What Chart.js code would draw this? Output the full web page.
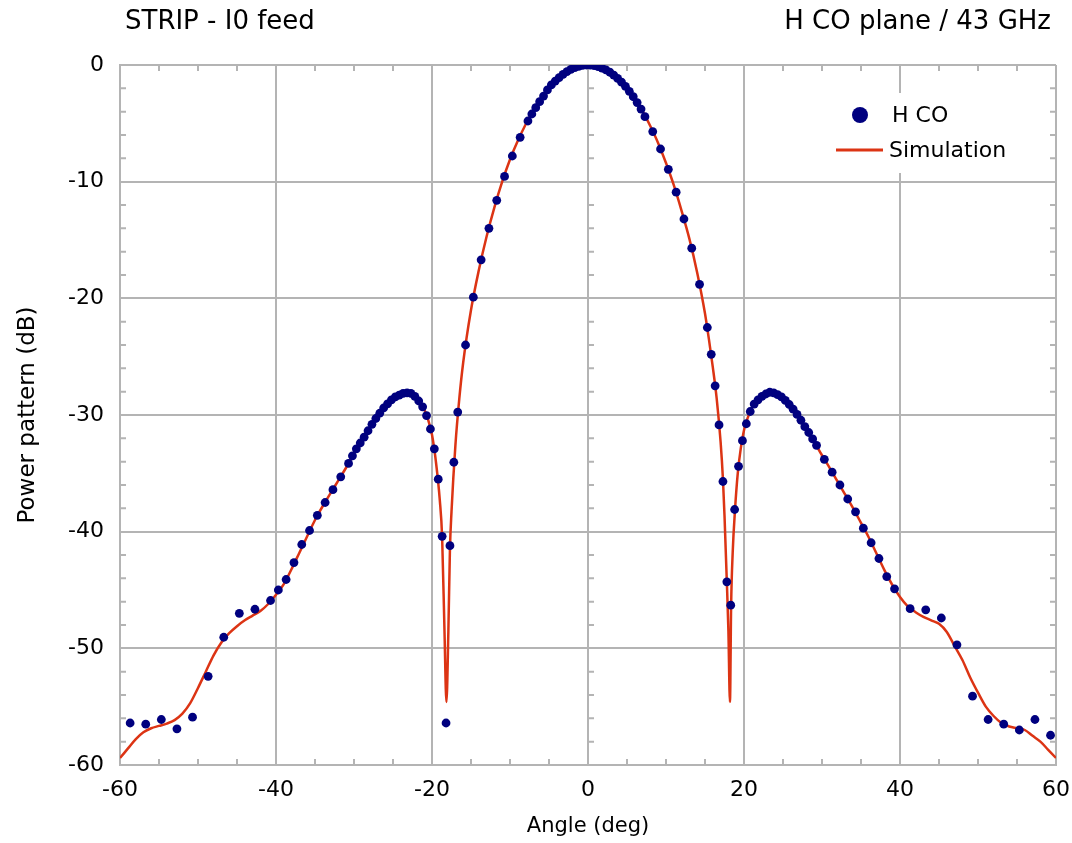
<!DOCTYPE html>
<html>
<head>
<meta charset="utf-8">
<script src="https://cdn.jsdelivr.net/npm/chart.js@4.4.0/dist/chart.umd.min.js"></script>
<style>
  html, body { margin: 0; padding: 0; background: #fff; }
  #wrap { width: 1072px; height: 843px; }
</style>
</head>
<body>
<div id="wrap"><canvas id="chart" width="1072" height="843"></canvas></div>
<script>
// measured points (H CO plane)
const hcoAngles = [
  -58.7, -56.7, -54.7, -52.7, -50.7, -48.7, -46.7, -44.7, -42.7, -40.7,
  -39.7, -38.7, -37.7, -36.7, -35.7, -34.7, -33.7, -32.7, -31.7, -30.7,
  -30.2, -29.7, -29.2, -28.7, -28.2, -27.7, -27.2, -26.7, -26.2, -25.7,
  -25.2, -24.7, -24.2, -23.7, -23.2, -22.7, -22.2, -21.7, -21.2, -20.7,
  -20.2, -19.7, -19.2, -18.7, -18.2, -17.7, -17.2, -16.7,
  -15.7, -14.7, -13.7, -12.7, -11.7, -10.7, -9.7, -8.7, -7.7,
  -7.2, -6.7, -6.2, -5.7, -5.2, -4.7, -4.2, -3.7, -3.2, -2.7, -2.2, -1.7, -1.2, -0.7, -0.2,
  0.3, 0.8, 1.3, 1.8, 2.3, 2.8, 3.3, 3.8, 4.3, 4.8, 5.3, 5.8, 6.3, 6.8,
  7.3, 8.3, 9.3, 10.3, 11.3, 12.3, 13.3, 14.3,
  15.3, 15.8, 16.3, 16.8, 17.3, 17.8, 18.3, 18.8, 19.3, 19.8, 20.3, 20.8,
  21.3, 21.8, 22.3, 22.8, 23.3, 23.8, 24.3, 24.8, 25.3, 25.8, 26.3, 26.8,
  27.3, 27.8, 28.3, 28.8, 29.3,
  30.3, 31.3, 32.3, 33.3, 34.3, 35.3, 36.3, 37.3, 38.3, 39.3,
  41.3, 43.3, 45.3, 47.3, 49.3, 51.3, 53.3, 55.3, 57.3, 59.3
];
const hcoPower = [
  -56.4, -56.5, -56.1, -56.9, -55.9, -52.4, -49.05, -47.0, -46.65, -45.9,
  -45.0, -44.1, -42.65, -41.1, -39.9, -38.6, -37.5, -36.4, -35.3, -34.15,
  -33.5, -32.9, -32.4, -31.9, -31.35, -30.8, -30.3, -29.85, -29.4, -29.05,
  -28.7, -28.45, -28.3, -28.15, -28.1, -28.15, -28.4, -28.8, -29.3, -30.05,
  -31.2, -32.9, -35.5, -40.4, -56.4, -41.2, -34.05, -29.75,
  -24.0, -19.9, -16.7, -14.0, -11.6, -9.55, -7.8, -6.2, -4.8,
  -4.2, -3.66, -3.14, -2.66, -2.14, -1.71, -1.38, -1.08, -0.8, -0.57, -0.38, -0.22, -0.11, -0.04, 0,
  -0.01, -0.05, -0.13, -0.26, -0.42, -0.62, -0.86, -1.15, -1.47, -1.83, -2.26, -2.72, -3.22, -3.78,
  -4.43, -5.71, -7.2, -8.94, -10.9, -13.2, -15.7, -18.8,
  -22.5, -24.8, -27.5, -30.85, -35.7, -44.3, -46.3, -38.1, -34.4, -32.2, -30.75, -29.7,
  -29.06, -28.7, -28.4, -28.2, -28.05, -28.1, -28.25, -28.45, -28.75, -29.1, -29.5, -29.95,
  -30.45, -31.0, -31.5, -32.05, -32.6,
  -33.8, -34.9, -36.0, -37.2, -38.3, -39.7, -40.95, -42.3, -43.85, -44.9,
  -46.6, -46.7, -47.4, -49.7, -54.1, -56.1, -56.5, -57.0, -56.1, -57.45
];

// simulated pattern
const simAngles = [
  -60, -59, -58, -57, -56, -55, -54, -53, -52, -51, -50, -49, -48, -47, -46, -45, -44, -43, -42, -41,
  -40, -39, -38, -37, -36, -35, -34, -33, -32, -31, -30, -29, -28, -27, -26, -25, -24, -23, -22, -21,
  -20.5, -20, -19.5, -19, -18.7, -18.4, -18.15, -17.9, -17.7, -17.5, -17, -16.5, -16,
  -15, -14, -13, -12, -11, -10, -9, -8, -7, -6, -5, -4, -3, -2, -1, 0,
  1, 2, 3, 4, 5, 6, 7, 8, 9, 10, 11, 12, 13, 14, 15, 15.5, 16, 16.5,
  17, 17.3, 17.5, 17.8, 18.0, 18.2, 18.35, 18.55, 18.85, 19.2, 19.6, 20, 20.5, 21,
  22, 23, 24, 25, 26, 27, 28, 29, 30, 31, 32, 33, 34, 35, 36, 37, 38, 39, 40,
  41, 42, 43, 44, 45, 46, 47, 48, 49, 50, 51, 52, 53, 54, 55, 56, 57, 58, 59, 60
];
const simPower = [
  -59.4, -58.6, -57.8, -57.2, -56.85, -56.65, -56.45, -56.15, -55.6, -54.7, -53.4, -52.0, -50.6, -49.5, -48.7, -48.1, -47.6, -47.2, -46.8, -46.2,
  -45.4, -44.5, -43.2, -41.8, -40.4, -39.0, -37.8, -36.7, -35.6, -34.5, -33.3, -32.2, -31.1, -30.1, -29.25, -28.6, -28.2, -28.1, -28.5, -29.5,
  -30.4, -31.7, -34.0, -37.3, -40.5, -48.5, -54.6, -48.5, -41.5, -38.3, -32.6, -28.6, -25.5,
  -21.0, -17.6, -14.7, -12.2, -10.0, -8.1, -6.5, -5.1, -3.9, -2.85, -1.98, -1.27, -0.72, -0.32, -0.08, 0,
  -0.08, -0.32, -0.72, -1.27, -1.98, -2.88, -3.95, -5.25, -6.7, -8.4, -10.3, -12.5, -14.9, -17.8, -21.3, -23.5, -25.9, -28.6,
  -32.3, -35.5, -38.6, -44.3, -48.5, -54.6, -46.3, -41.8, -38.1, -35.0, -32.8, -31.3, -30.2, -29.4,
  -28.5, -28.1, -28.2, -28.6, -29.3, -30.2, -31.2, -32.3, -33.45, -34.55, -35.7, -36.85, -38.0, -39.25, -40.5, -41.9, -43.3, -44.55, -45.6,
  -46.4, -46.9, -47.3, -47.6, -47.9, -48.6, -49.8, -51.0, -52.5, -53.8, -55.0, -55.8, -56.4, -56.7, -56.85, -57.0, -57.5, -58.0, -58.7, -59.4
];

const seriesNames = ['H CO', 'Simulation'];
const leftTitle = 'STRIP - I0 feed';
const rightTitle = 'H CO plane / 43 GHz';
const xTitle = 'Angle (deg)';
const yTitle = 'Power pattern (dB)';

const navy = '#00007f';
const simRed = '#dc3414';
const gridGray = '#b4b4b4';
const fontFamily = '"DejaVu Sans", Verdana, sans-serif';

Chart.defaults.font.family = fontFamily;
Chart.defaults.color = '#000';

// minor ticks, titles and legend box
const decor = {
  id: 'decor',
  beforeDatasetsDraw(chart) {
    const {ctx, chartArea: a, scales: {x, y}} = chart;
    ctx.save();
    ctx.strokeStyle = gridGray;
    ctx.lineWidth = 2;
    ctx.beginPath();
    for (let v = -55; v < 60; v += 5) {
      if (v % 20 === 0) continue;
      const px = x.getPixelForValue(v);
      ctx.moveTo(px, a.top); ctx.lineTo(px, a.top + 6);
      ctx.moveTo(px, a.bottom); ctx.lineTo(px, a.bottom - 6);
    }
    const x0 = x.getPixelForValue(0);
    for (let v = -58; v < 0; v += 2) {
      if (v % 10 === 0) continue;
      const py = y.getPixelForValue(v);
      ctx.moveTo(a.left, py); ctx.lineTo(a.left + 6, py);
      ctx.moveTo(a.right, py); ctx.lineTo(a.right - 6, py);
      ctx.moveTo(x0, py); ctx.lineTo(x0 + 6, py);
    }
    ctx.stroke();
    ctx.restore();
  },
  afterDraw(chart) {
    const {ctx, chartArea: a} = chart;
    ctx.save();
    ctx.fillStyle = '#000';
    ctx.textBaseline = 'middle';
    ctx.font = '26px ' + fontFamily;
    ctx.textAlign = 'left';
    ctx.fillText(leftTitle, a.left + 5, 22);
    ctx.textAlign = 'right';
    ctx.fillText(rightTitle, a.right - 5, 22);

    // legend
    const lx = a.right - 226, ly = a.top + 28;
    ctx.fillStyle = '#fff';
    ctx.fillRect(lx, ly, 176, 80);
    ctx.fillStyle = navy;
    ctx.beginPath();
    ctx.arc(lx + 30, ly + 22, 8, 0, Math.PI * 2);
    ctx.fill();
    ctx.strokeStyle = simRed;
    ctx.lineWidth = 3;
    ctx.beginPath();
    ctx.moveTo(lx + 6, ly + 57);
    ctx.lineTo(lx + 53, ly + 57);
    ctx.stroke();
    ctx.fillStyle = '#000';
    ctx.textAlign = 'left';
    ctx.font = '22px ' + fontFamily;
    ctx.fillText(seriesNames[0], lx + 62, ly + 23);
    ctx.fillText(seriesNames[1], lx + 59, ly + 58);
    ctx.restore();
  }
};

new Chart(document.getElementById('chart'), {
  type: 'scatter',
  data: {
    datasets: [
      {
        label: seriesNames[0],
        data: hcoAngles.map((a, i) => ({x: a, y: hcoPower[i]})),
        backgroundColor: navy,
        borderColor: navy,
        borderWidth: 0,
        pointRadius: 4.4,
        showLine: false
      },
      {
        label: seriesNames[1],
        data: simAngles.map((a, i) => ({x: a, y: simPower[i]})),
        borderColor: simRed,
        borderWidth: 2.5,
        pointRadius: 0,
        showLine: true,
        cubicInterpolationMode: 'monotone'
      }
    ]
  },
  options: {
    responsive: false,
    animation: false,
    events: [],
    layout: {padding: {top: 65, right: 16, left: 0, bottom: 0}},
    plugins: {legend: {display: false}, tooltip: {enabled: false}},
    scales: {
      x: {
        type: 'linear',
        min: -60, max: 60,
        afterFit: s => { s.height = 78; s.paddingRight = 0; s.paddingLeft = 0; },
        ticks: {stepSize: 20, padding: 12, font: {size: 22}, maxRotation: 0},
        grid: {color: gridGray, lineWidth: 2, drawTicks: false},
        border: {color: gridGray, width: 2},
        title: {display: true, text: xTitle, font: {size: 21}, padding: {top: 0, bottom: 4}}
      },
      y: {
        type: 'linear',
        min: -60, max: 0,
        afterFit: s => { s.width = 120; s.paddingTop = 0; s.paddingBottom = 0; },
        ticks: {stepSize: 10, padding: 16, font: {size: 22}},
        grid: {color: gridGray, lineWidth: 2, drawTicks: false},
        border: {color: gridGray, width: 2},
        title: {display: true, text: yTitle, font: {size: 23}, padding: {top: 14, bottom: 0}}
      }
    }
  },
  plugins: [decor]
});
</script>
</body>
</html>
